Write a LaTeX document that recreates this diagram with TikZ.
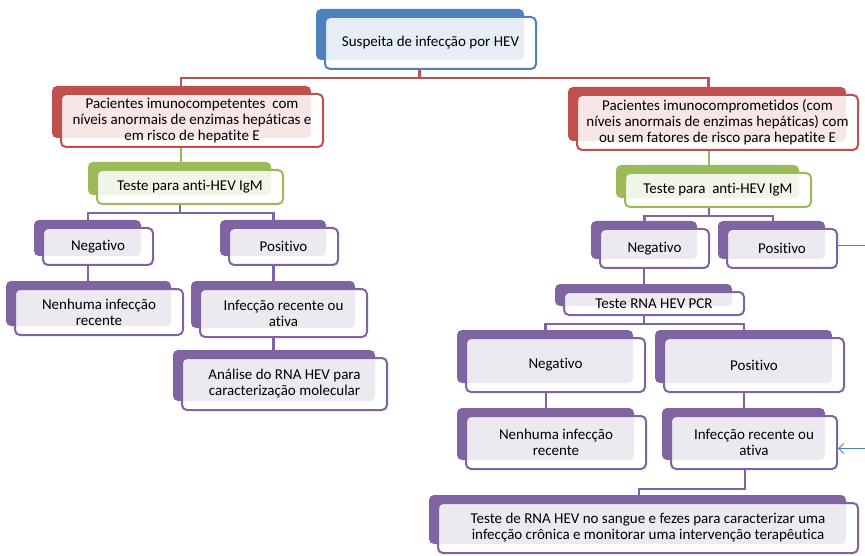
\documentclass[tikz,border=0pt]{standalone}
\usepackage{fontspec}
\setmainfont{Carlito}[Ligatures=NoCommon]
\usetikzlibrary{arrows.meta,backgrounds}
\definecolor{hevblue}{HTML}{4F81BD}
\definecolor{hevred}{HTML}{C0504D}
\definecolor{hevgreen}{HTML}{9BBB59}
\definecolor{hevpurple}{HTML}{8064A2}
\begin{document}
\begin{tikzpicture}[x=1pt,y=-1pt,line width=2pt,
    box/.style={draw,line width=2pt,rounded corners=5pt,fill=white,fill opacity=0.86,text opacity=1,
        align=center,inner sep=0pt,font=\fontsize{15}{16}\selectfont},
    bluebox/.style={box,draw=hevblue},
    redbox/.style={box,draw=hevred},
    greenbox/.style={box,draw=hevgreen},
    purplebox/.style={box,draw=hevpurple},
    link/.style={line width=2.2pt}]
    \useasboundingbox (0,0) rectangle (865,556);

    \node[bluebox,minimum width=211pt,minimum height=52pt] at (430.5,43) (top) {Suspeita de infecção por HEV};

    \node[redbox,minimum width=262pt,minimum height=53pt] at (192,120.5) (redL) {Pacientes imunocompetentes\ \ com\\níveis anormais de enzimas hepáticas e\\em risco de hepatite E};
    \node[redbox,minimum width=281pt,minimum height=55pt] at (717.5,122.5) (redR) {Pacientes imunocomprometidos (com\\níveis anormais de enzimas hepáticas) com\\ou sem fatores de risco para hepatite E};

    \node[greenbox,minimum width=186pt,minimum height=34pt] at (190,187) (grnL) {Teste para anti-HEV IgM};
    \node[greenbox,minimum width=186pt,minimum height=34pt] at (718,190) (grnR) {Teste para\ \ anti-HEV IgM};

    % left branch
    \node[purplebox,minimum width=110pt,minimum height=37pt] at (98,246.5) (negL) {Negativo};
    \node[purplebox,minimum width=109pt,minimum height=37pt] at (283.5,246.5) (posL) {Positivo};
    \node[purplebox,minimum width=168pt,minimum height=46pt] at (99,312) (nenhL) {Nenhuma infecção\\recente};
    \node[purplebox,minimum width=167pt,minimum height=48pt] at (283.5,313) (infL) {Infecção recente ou\\ativa};
    \node[purplebox,minimum width=205pt,minimum height=52pt] at (284.5,384) (anal) {Análise do RNA HEV para\\caracterização molecular};

    % right branch
    \node[purplebox,minimum width=109pt,minimum height=39pt] at (654.5,248.5) (negR) {Negativo};
    \node[purplebox,minimum width=110pt,minimum height=39pt] at (782,248.5) (posR) {Positivo};
    \node[purplebox,minimum width=180pt,minimum height=23pt] at (654,303.5) (pcr) {Teste RNA HEV PCR};
    \node[purplebox,minimum width=179pt,minimum height=54pt] at (555.5,365) (negP) {Negativo};
    \node[purplebox,minimum width=180pt,minimum height=54pt] at (754,365) (posP) {Positivo};
    \node[purplebox,minimum width=180pt,minimum height=53pt] at (556,442.5) (nenhR) {Nenhuma infecção\\recente};
    \node[purplebox,minimum width=166pt,minimum height=53pt] at (754,442.5) (infR) {Infecção recente ou\\ativa};
    \node[purplebox,minimum width=420pt,minimum height=50pt] at (648,528) (sangue) {Teste de RNA HEV no sangue e fezes para caracterizar uma\\infecção crônica e monitorar uma intervenção terapêutica};

    \begin{scope}[on background layer]
        \draw[link,hevred] ([xshift=-11pt]top.south) -- ++(0,8) -| ([xshift=-11pt]redL.north);
        \draw[link,hevred] ([xshift=-11pt]top.south) -- ++(0,8) -| ([xshift=-9pt]redR.north);
        \draw[link,hevgreen] ([xshift=-11pt]redL.south) -| ([xshift=-9pt]grnL.north);
        \draw[link,hevgreen] ([xshift=-9pt]redR.south) -| ([xshift=-9pt]grnR.north);

        \draw[link,hevpurple] ([xshift=-10pt]grnL.south) -- ++(0,8) -| ([xshift=-10pt]negL.north);
        \draw[link,hevpurple] ([xshift=-10pt]grnL.south) -- ++(0,8) -| ([xshift=-10pt]posL.north);
        \draw[link,hevpurple] ([xshift=-10pt]negL.south) -| ([xshift=-11pt]nenhL.north);
        \draw[link,hevpurple] ([xshift=-10pt]posL.south) -| ([xshift=-10pt]infL.north);
        \draw[link,hevpurple] ([xshift=-10pt]infL.south) -| ([xshift=-11pt]anal.north);

        \draw[link,hevpurple] ([xshift=-9pt]grnR.south) -- ++(0,8) -| ([xshift=-10pt]negR.north);
        \draw[link,hevpurple] ([xshift=-9pt]grnR.south) -- ++(0,8) -| ([xshift=-9pt]posR.north);
        \draw[link,hevpurple] ([xshift=-10pt]negR.south) -| ([xshift=-10pt]pcr.north);
        \draw[link,hevpurple] ([xshift=-10pt]pcr.south) -- ++(0,8) -| ([xshift=-10pt]negP.north);
        \draw[link,hevpurple] ([xshift=-10pt]pcr.south) -- ++(0,8) -| ([xshift=-10pt]posP.north);
        \draw[link,hevpurple] ([xshift=-10pt]negP.south) -| ([xshift=-10pt]nenhR.north);
        \draw[link,hevpurple] ([xshift=-10pt]posP.south) -| ([xshift=-10pt]infR.north);
        \draw[link,hevpurple] ([xshift=-9pt]infR.south) -- ++(0,19) -| ([xshift=-9pt]sangue.north);

        % back plates
        \foreach \n/\c in {top/hevblue,redL/hevred,redR/hevred,grnL/hevgreen,grnR/hevgreen,
                negL/hevpurple,posL/hevpurple,nenhL/hevpurple,infL/hevpurple,anal/hevpurple,
                negR/hevpurple,posR/hevpurple,pcr/hevpurple,negP/hevpurple,posP/hevpurple,
                nenhR/hevpurple,infR/hevpurple,sangue/hevpurple}
            \fill[\c,rounded corners=5pt] ([shift={(-8,-7)}]\n.north west) rectangle ([shift={(-13,-10)}]\n.south east);
    \end{scope}

    \draw[hevblue,line width=0.9pt,-{Straight Barb[length=5pt,width=10pt]}] ([yshift=3pt]posR.east) -- ++(40,0) |- ([yshift=-6pt]infR.east);
\end{tikzpicture}
\end{document}
